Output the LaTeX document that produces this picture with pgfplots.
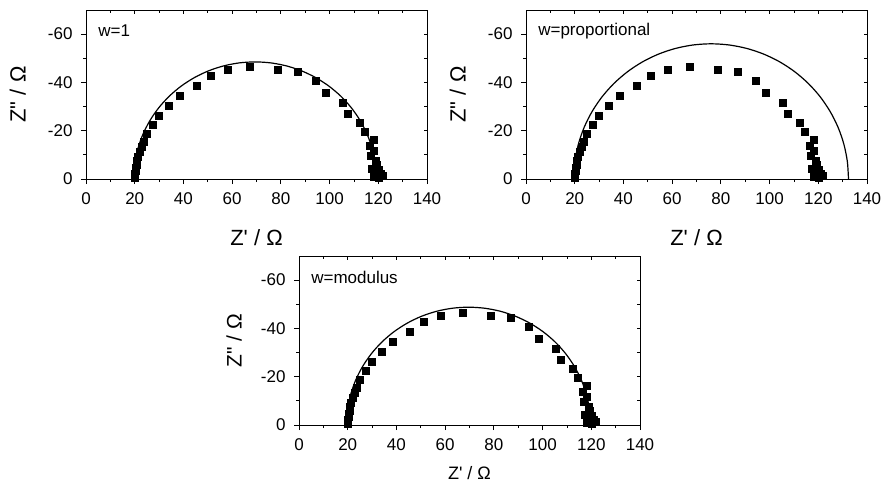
\documentclass[border=0pt]{standalone}
\usepackage{pgfplots}
\usepackage{pgfplotstable}
\pgfplotsset{compat=1.18}
\usepackage{fontspec}
\setmainfont{Liberation Sans}
\newfontfamily\lblfont{Liberation Sans}[Ligatures=TeXOff]

\pgfplotstableread{
x y
19.8 -0.4
19.9 -1.2
20.0 -2.2
20.2 -3.3
20.4 -4.6
20.7 -6.0
21.0 -7.6
21.4 -9.4
22.0 -11.3
22.8 -13.3
23.7 -15.6
25.0 -18.7
27.3 -22.6
30.0 -26.2
33.8 -30.3
38.5 -34.6
45.3 -38.8
51.3 -42.9
58.3 -45.2
67.4 -46.5
78.6 -45.1
86.8 -44.3
94.1 -40.7
98.4 -35.7
105.3 -31.7
107.3 -27.2
112.2 -23.3
114.3 -19.5
118.0 -16.1
116.4 -13.8
118.0 -11.7
116.7 -9.7
118.8 -7.7
119.4 -6.0
117.4 -4.3
120.1 -3.9
120.8 -2.3
122.0 -1.4
118.0 -0.8
120.0 -0.5
}\meas

\pgfplotstableread{
x y
19.6 0
20.03 -6.33
21.30 -12.55
23.39 -18.56
26.27 -24.25
29.89 -29.53
34.19 -34.30
39.08 -38.48
44.50 -42.00
50.34 -44.81
56.51 -46.85
62.90 -48.09
69.40 -48.50
75.90 -48.09
82.29 -46.85
88.46 -44.81
94.30 -42.00
99.72 -38.48
104.61 -34.30
108.91 -29.53
112.53 -24.25
115.41 -18.56
117.50 -12.55
118.77 -6.33
119.2 0
}\fitA

\pgfplotstableread{
x y
19.6 0
20.08 -7.31
21.52 -14.49
23.89 -21.43
27.16 -28.00
31.26 -34.09
36.12 -39.60
41.67 -44.43
47.80 -48.50
54.42 -51.74
61.40 -54.09
68.64 -55.52
76.00 -56.00
83.36 -55.52
90.60 -54.09
97.58 -51.74
104.20 -48.50
110.33 -44.43
115.88 -39.60
120.75 -34.09
124.84 -28.00
128.11 -21.43
130.48 -14.49
131.92 -7.31
132.4 0
}\fitB

\pgfplotstableread{
x y
19.5 0
19.93 -6.37
21.21 -12.63
23.31 -18.68
26.21 -24.40
29.85 -29.71
34.17 -34.51
39.10 -38.72
44.55 -42.26
50.43 -45.09
56.63 -47.14
63.06 -48.38
69.60 -48.80
76.14 -48.38
82.57 -47.14
88.77 -45.09
94.65 -42.26
100.10 -38.72
105.03 -34.51
109.35 -29.71
112.99 -24.40
115.89 -18.68
117.99 -12.63
119.27 -6.37
119.7 0
}\fitC

\tikzset{wlab/.style={anchor=west, font=\fontsize{17}{17}\selectfont}}

\pgfplotsset{
  panel/.style={
    scale only axis, width=341pt, height=169pt,
    anchor=south west,
    xmin=0, xmax=140, ymin=-70, ymax=0, y dir=reverse,
    xtick={0,20,...,140}, ytick={-60,-40,-20,0},
    minor x tick num=1, minor y tick num=1,
    axis line style={line width=0.8pt},
    tick style={black, line width=0.8pt},
  },
  front/.style={
    panel,
    xtick pos=bottom, ytick pos=left,
    tick align=outside,
    major tick length=5pt, minor tick length=3pt,
    /pgf/number format/assume math mode=true,
    tick label style={font=\fontsize{17}{17}\selectfont},
    xticklabel style={yshift=-5pt},
    yticklabel style={xshift=-5pt},
    xlabel={Z' / Ω},
    ylabel={Z" / Ω},
    xlabel style={at={(axis description cs:0.5,-0.345)}, anchor=center, font=\lblfont\fontsize{22}{22}\selectfont},
    ylabel style={at={(axis description cs:-0.2,0.5)}, anchor=center, font=\lblfont\fontsize{22}{22}\selectfont},
  },
  back/.style={
    panel,
    xtick pos=top, ytick pos=right,
    tick align=inside,
    major tick length=3.5pt, minor tick length=3pt,
    xticklabels={}, yticklabels={},
  },
  meas/.style={only marks, mark=square*, mark size=3.5pt, black},
  fit/.style={black, line width=1.2pt, smooth, no marks},
}

\begin{document}
\begin{tikzpicture}
\useasboundingbox (0,0) rectangle (883pt,482pt);

% panel 1
\begin{axis}[back, at={(86pt,303pt)}]
\end{axis}
\begin{axis}[front, at={(86pt,303pt)}]
\addplot[meas] table[x=x,y=y] {\meas};
\addplot[fit] table[x=x,y=y] {\fitA};
\node[wlab] at (axis cs:3.6,-61.3) {w=1};
\end{axis}

% panel 2
\begin{axis}[back, at={(526pt,303pt)}]
\end{axis}
\begin{axis}[front, at={(526pt,303pt)}]
\addplot[meas] table[x=x,y=y] {\meas};
\addplot[fit] table[x=x,y=y] {\fitB};
\node[wlab] at (axis cs:3.6,-61.3) {w=proportional};
\end{axis}

% panel 3
\begin{axis}[back, at={(299pt,57pt)}]
\end{axis}
\begin{axis}[front, at={(299pt,57pt)},
  xlabel style={at={(axis description cs:0.5,-0.225)}, anchor=north, font=\lblfont\fontsize{18}{18}\selectfont},
  ylabel style={at={(axis description cs:-0.19,0.5)}, anchor=center, font=\lblfont\fontsize{21}{21}\selectfont}]
\addplot[meas] table[x=x,y=y] {\meas};
\addplot[fit] table[x=x,y=y] {\fitC};
\node[wlab] at (axis cs:3.6,-61.3) {w=modulus};
\end{axis}
\end{tikzpicture}
\end{document}
